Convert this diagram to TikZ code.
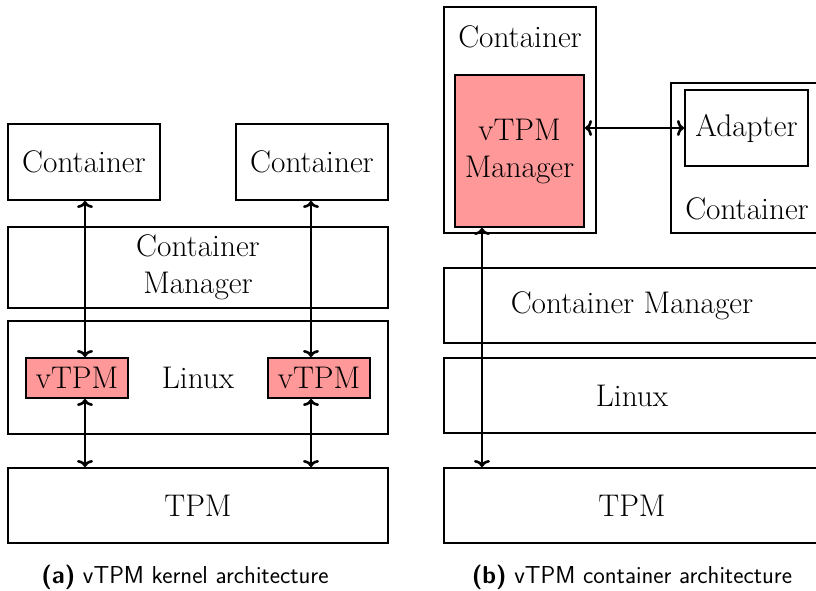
\documentclass[tikz,border=0pt]{standalone}
\usetikzlibrary{arrows.meta}
\definecolor{vtpmfill}{RGB}{255,153,153}
\begin{document}
\begin{tikzpicture}[x=1pt,y=-1pt,line width=2pt,
  font=\fontsize{31.3}{37}\selectfont,
  box/.style={draw,rectangle,inner sep=0pt,align=center},
  vbox/.style={box,fill=vtpmfill},
  tip/.tip={To[length=7pt,width=16pt]},
  link/.style={tip-tip,line width=2.6pt},
  caption/.style={font=\sffamily\fontsize{24.5}{29}\selectfont}]
\clip (0,0) rectangle (816,590);

% ---- (a) kernel architecture ----
\node[box,minimum width=152,minimum height=76] (contA) at (84,162) {Container};
\node[box,minimum width=152,minimum height=76] (contB) at (312,162) {Container};
\node[box,minimum width=380,minimum height=81] (cmgrL) at (198,267.5) {Container\\Manager};
\node[box,minimum width=380,minimum height=113] (linuxL) at (198,377.5) {Linux};
\node[vbox,minimum width=102,minimum height=40] (vtpmA) at (77,378) {vTPM};
\node[vbox,minimum width=102,minimum height=40] (vtpmB) at (319,378) {vTPM};
\node[box,minimum width=380,minimum height=75] (tpmL) at (198,505.5) {TPM};

\coordinate (axA) at (85,0);
\coordinate (axB) at (311,0);
\draw[link] (axA |- contA.south) -- (axA |- vtpmA.north);
\draw[link] (axB |- contB.south) -- (axB |- vtpmB.north);
\draw[link] (axA |- vtpmA.south) -- (axA |- tpmL.north);
\draw[link] (axB |- vtpmB.south) -- (axB |- tpmL.north);

\node[caption] (capA) at (185,577) {\textbf{(a)} vTPM kernel architecture};

% ---- (b) container architecture ----
\node[box,minimum width=152,minimum height=226] (contM) at (520,120) {};
\node (contMlabel) at (520,37) {Container};
\node[vbox,minimum width=129,minimum height=152] (vmgr) at (519.5,151) {vTPM\\Manager};
\node[box,minimum width=150,minimum height=150] (contD) at (746,158) {};
\node[box,minimum width=123,minimum height=76] (adapter) at (746.5,128) {Adapter};
\node (contDlabel) at (747,209) {Container};
\node[box,minimum width=376,minimum height=75] (cmgrR) at (632,305.5) {Container Manager};
\node[box,minimum width=376,minimum height=75] (linuxR) at (632,395.5) {Linux};
\node[box,minimum width=376,minimum height=75] (tpmR) at (632,505.5) {TPM};

\coordinate (axC) at (482,0);
\draw[link] (vmgr.east |- adapter.west) -- (adapter.west);
\draw[link] (axC |- vmgr.south) -- (axC |- tpmR.north);

\node[caption] (capB) at (632,577) {\textbf{(b)} vTPM container architecture};
\end{tikzpicture}
\end{document}
